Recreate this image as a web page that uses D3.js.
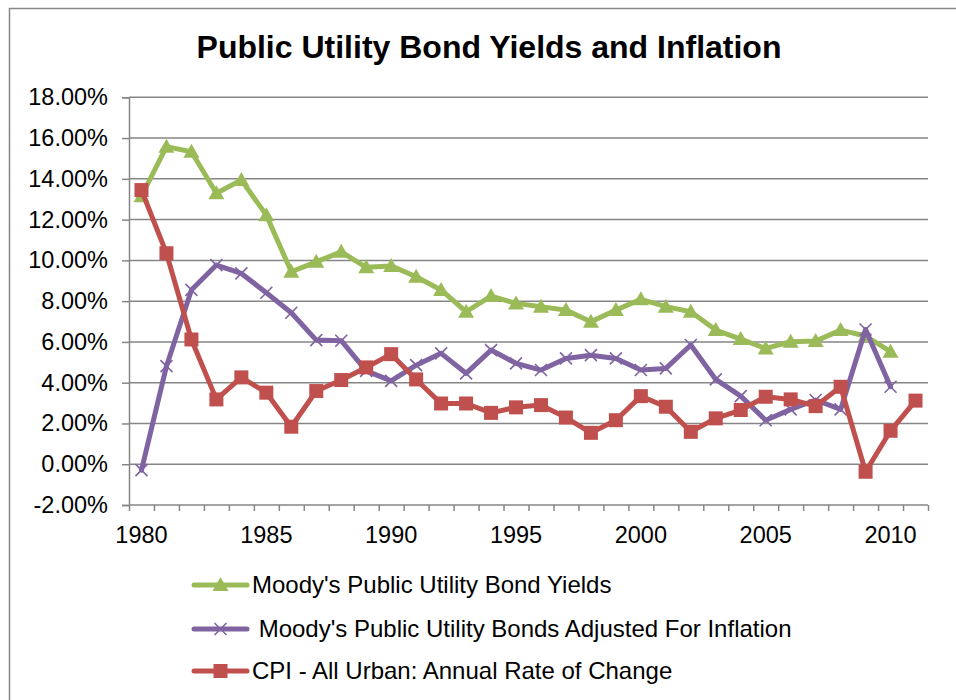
<!DOCTYPE html>
<html>
<head>
<meta charset="utf-8">
<script src="https://cdn.jsdelivr.net/npm/d3@7"></script>
<style>
  html, body { margin: 0; padding: 0; background: #fff; }
  svg { display: block; font-family: "Liberation Sans", Arial, sans-serif; }
</style>
</head>
<body>
<svg id="chart" width="956" height="700"></svg>
<script>
// Category years on the x axis
const years = [1980, 1981, 1982, 1983, 1984, 1985, 1986, 1987, 1988, 1989,
               1990, 1991, 1992, 1993, 1994, 1995, 1996, 1997, 1998, 1999,
               2000, 2001, 2002, 2003, 2004, 2005, 2006, 2007, 2008, 2009,
               2010, 2011];

// Moody's Public Utility Bond Yields (%), 1980–2010
const bondYields = [13.15, 15.58, 15.33, 13.29, 13.94, 12.22, 9.44, 9.93, 10.42, 9.66,
                    9.73, 9.20, 8.55, 7.48, 8.25, 7.89, 7.73, 7.56, 6.99, 7.56,
                    8.09, 7.73, 7.48, 6.58, 6.14, 5.68, 6.01, 6.04, 6.58, 6.29,
                    5.52];

// Moody's Public Utility Bonds Adjusted For Inflation (%), 1980–2010
const adjustedYields = [-0.29, 4.81, 8.55, 9.77, 9.36, 8.41, 7.43, 6.09, 6.06, 4.58,
                        4.09, 4.86, 5.44, 4.46, 5.60, 4.95, 4.62, 5.19, 5.35, 5.19,
                        4.62, 4.70, 5.85, 4.16, 3.34, 2.16, 2.69, 3.15, 2.69, 6.61,
                        3.80];

// CPI - All Urban: Annual Rate of Change (%), 1980–2011
const cpiChange = [13.45, 10.35, 6.12, 3.18, 4.26, 3.51, 1.84, 3.59, 4.13, 4.75,
                   5.40, 4.16, 2.98, 2.98, 2.52, 2.79, 2.90, 2.29, 1.54, 2.16,
                   3.34, 2.82, 1.59, 2.25, 2.66, 3.31, 3.18, 2.85, 3.80, -0.37,
                   1.64, 3.12];

// Axis tick labels
const yTicks = [-2, 0, 2, 4, 6, 8, 10, 12, 14, 16, 18];
const xLabelYears = [1980, 1985, 1990, 1995, 2000, 2005, 2010];

const seriesNames = [
  "Moody's Public Utility Bond Yields",
  " Moody's Public Utility Bonds Adjusted For Inflation",
  "CPI - All Urban: Annual Rate of Change"
];

const series = [
  { name: seriesNames[0], values: bondYields,     color: "#9BBB59", marker: "triangle" },
  { name: seriesNames[1], values: adjustedYields, color: "#8064A2", marker: "x" },
  { name: seriesNames[2], values: cpiChange,      color: "#C0504D", marker: "square" }
];

const svg = d3.select("#chart");
const axisColor = "#868686";

const plot = { left: 129, right: 928, top: 97.3, bottom: 505 };

const x = d3.scaleBand().domain(years).range([plot.left, plot.right]).padding(0);
const xc = d => x(d) + x.bandwidth() / 2;
const y = d3.scaleLinear().domain([-2, 18]).range([plot.bottom, plot.top]);

// Outer chart frame
svg.append("rect")
  .attr("x", 9.5).attr("y", 8.5)
  .attr("width", 1000).attr("height", 1000)
  .attr("fill", "none").attr("stroke", axisColor).attr("stroke-width", 1.5);

// Title
svg.append("text")
  .attr("x", 489).attr("y", 58)
  .attr("text-anchor", "middle")
  .attr("font-size", 32).attr("font-weight", "bold").attr("fill", "#000")
  .text("Public Utility Bond Yields and Inflation");

// Horizontal gridlines
svg.append("g")
  .selectAll("line")
  .data(yTicks.filter(t => t !== -2))
  .join("line")
  .attr("x1", plot.left).attr("x2", plot.right)
  .attr("y1", d => y(d)).attr("y2", d => y(d))
  .attr("stroke", axisColor).attr("stroke-width", 1.5);

// Y axis (plain hyphen for negative values)
const pct = d3.format(".2f");
const yAxis = d3.axisLeft(y)
  .tickValues(yTicks)
  .tickSize(7)
  .tickPadding(14)
  .tickFormat(d => pct(d).replace("\u2212", "-") + "%");

const gy = svg.append("g")
  .attr("transform", `translate(${plot.left},0)`)
  .call(yAxis);
gy.select(".domain").attr("stroke", axisColor).attr("stroke-width", 1.5);
gy.selectAll(".tick line").attr("stroke", axisColor).attr("stroke-width", 1.5);
gy.selectAll(".tick text")
  .attr("font-size", 23.5).attr("fill", "#000")
  .attr("font-family", "'Liberation Sans', Arial, sans-serif");

// X axis: tick marks between categories, labels every five years
const xEdges = d3.scaleLinear().domain([0, years.length]).range([plot.left, plot.right]);
const xAxis = d3.axisBottom(xEdges)
  .tickValues(d3.range(0, years.length + 1))
  .tickSize(6)
  .tickFormat("");
const gx = svg.append("g")
  .attr("transform", `translate(0,${plot.bottom})`)
  .call(xAxis);
gx.select(".domain").attr("stroke", axisColor).attr("stroke-width", 1.5)
  .attr("d", `M${plot.left},0H${plot.right}`);
gx.selectAll(".tick line").attr("stroke", axisColor).attr("stroke-width", 1.5);

svg.append("g")
  .selectAll("text")
  .data(xLabelYears)
  .join("text")
  .attr("x", d => xc(d))
  .attr("y", 543)
  .attr("text-anchor", "middle")
  .attr("font-size", 23.5).attr("fill", "#000")
  .text(d => d);

// Marker drawing helpers
function drawMarker(g, kind, color, cx, cy) {
  if (kind === "triangle") {
    g.append("path")
      .attr("d", `M${cx},${cy - 8}L${cx + 8},${cy + 6}L${cx - 8},${cy + 6}Z`)
      .attr("fill", color);
  } else if (kind === "square") {
    g.append("rect")
      .attr("x", cx - 7).attr("y", cy - 7)
      .attr("width", 14).attr("height", 14)
      .attr("fill", color);
  } else {
    g.append("path")
      .attr("d", `M${cx - 6},${cy - 6}L${cx + 6},${cy + 6}M${cx - 6},${cy + 6}L${cx + 6},${cy - 6}`)
      .attr("stroke", color).attr("stroke-width", 1.6).attr("fill", "none");
  }
}

const line = d3.line()
  .x((d, i) => xc(years[i]))
  .y(d => y(d));

// Series lines and markers
series.forEach(s => {
  const g = svg.append("g");
  g.append("path")
    .datum(s.values)
    .attr("d", line)
    .attr("fill", "none")
    .attr("stroke", s.color)
    .attr("stroke-width", 5)
    .attr("stroke-linejoin", "round")
    .attr("stroke-linecap", "round");
  s.values.forEach((v, i) => drawMarker(g, s.marker, s.color, xc(years[i]), y(v)));
});

// Legend
const legendRows = [585, 629, 671];
series.forEach((s, i) => {
  const g = svg.append("g");
  const ly = legendRows[i];
  g.append("line")
    .attr("x1", 194).attr("x2", 247)
    .attr("y1", ly).attr("y2", ly)
    .attr("stroke", s.color).attr("stroke-width", 5)
    .attr("stroke-linecap", "round");
  drawMarker(g, s.marker, s.color, 220.5, ly);
  g.append("text")
    .attr("x", 252).attr("y", ly + 8)
    .attr("font-size", 24).attr("fill", "#000")
    .style("white-space", "pre")
    .text(s.name);
});
</script>
</body>
</html>
